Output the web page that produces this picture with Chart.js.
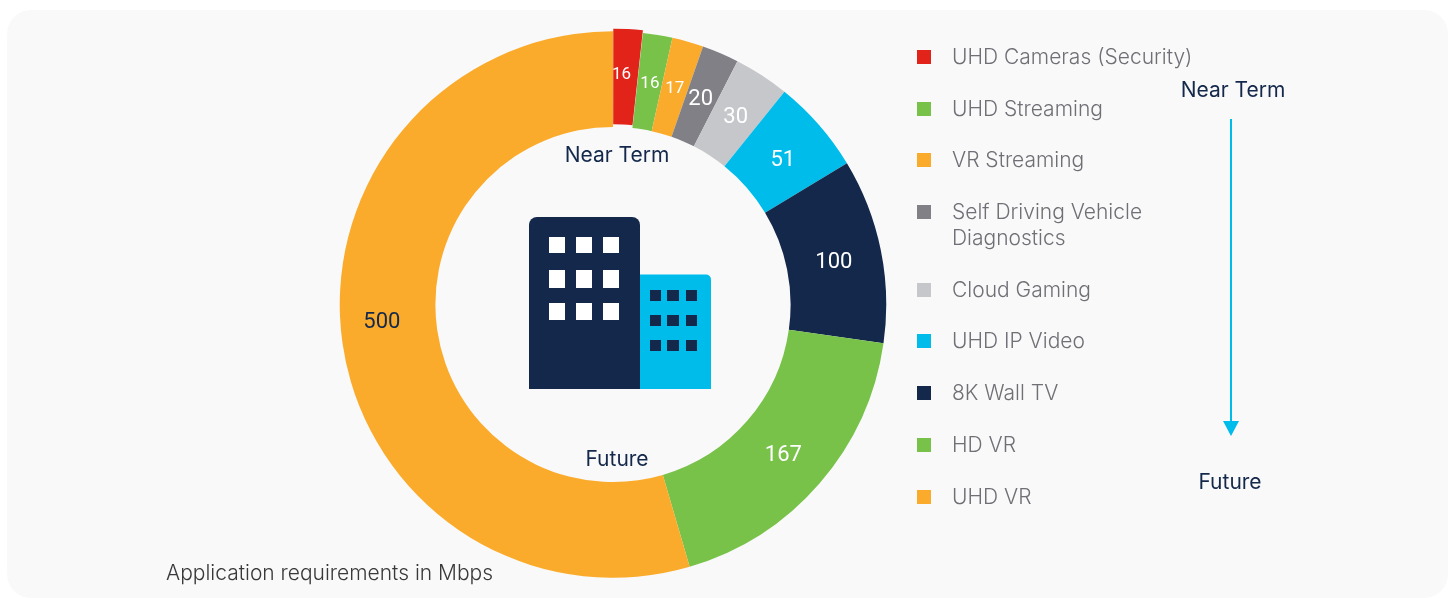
<!DOCTYPE html>
<html>
<head>
<meta charset="utf-8">
<title>Application requirements in Mbps</title>
<script src="https://cdn.jsdelivr.net/npm/chart.js@4"></script>
<style>
  html, body { margin: 0; padding: 0; background: #fff; }
  body { width: 1448px; height: 598px; overflow: hidden; position: relative; font-family: Inter, sans-serif; }
  .card { position: absolute; left: 7px; top: 10px; width: 1441px; height: 588px; background: #f9f9f9; border-radius: 24px; }
  .wrap { position: absolute; left: 337px; top: 28px; width: 552px; height: 553px; }
  .note { position: absolute; font-size: 21px; line-height: 26px; color: #14284b; white-space: nowrap; transform: translateX(-50%); }
  .caption { position: absolute; left: 166px; top: 560px; font-size: 21px; line-height: 26px; font-weight: 300; color: #39393b; white-space: nowrap; }
  .legend { position: absolute; left: 917px; top: 44px; margin: 0; padding: 0; list-style: none; }
  .legend li { display: flex; margin-bottom: 25.7px; font-size: 21px; line-height: 26px; font-weight: 300; color: #6f6f76; }
  .legend span { width: 250px; }
  .legend i { flex: none; width: 14px; height: 14px; margin-right: 21px; margin-top: 6px; }
  svg { position: absolute; left: 0; top: 0; }
</style>
</head>
<body>
<div class="card"></div>
<div class="wrap"><canvas id="ringChart" width="552" height="553"></canvas></div>

<svg width="1448" height="598">
  <!-- building icon -->
  <path d="M529 389V225a8 8 0 0 1 8-8h95a8 8 0 0 1 8 8v164z" fill="#14284b"/>
  <path d="M640 274.5h66a5 5 0 0 1 5 5V389h-71z" fill="#00bceb"/>
  <g fill="#fff">
    <rect x="549" y="237" width="16" height="16"/><rect x="576" y="237" width="16" height="16"/><rect x="603" y="237" width="16" height="16"/>
    <rect x="549" y="270" width="16" height="18"/><rect x="576" y="270" width="16" height="18"/><rect x="603" y="270" width="16" height="18"/>
    <rect x="549" y="303" width="16" height="17"/><rect x="576" y="303" width="16" height="17"/><rect x="603" y="303" width="16" height="17"/>
  </g>
  <g fill="#14284b">
    <rect x="650" y="290" width="11" height="11"/><rect x="667" y="290" width="12" height="11"/><rect x="686" y="290" width="11" height="11"/>
    <rect x="650" y="315" width="11" height="11"/><rect x="667" y="315" width="12" height="11"/><rect x="686" y="315" width="11" height="11"/>
    <rect x="650" y="340" width="11" height="11"/><rect x="667" y="340" width="12" height="11"/><rect x="686" y="340" width="11" height="11"/>
  </g>
  <!-- near term to future arrow -->
  <line x1="1231" y1="119" x2="1231" y2="424" stroke="#00bceb" stroke-width="2"/>
  <path d="M1223 421h16l-8 15z" fill="#00bceb"/>
</svg>

<div class="note" style="left:617px;top:142px">Near Term</div>
<div class="note" style="left:617px;top:446px">Future</div>
<div class="note" style="left:1233px;top:77px">Near Term</div>
<div class="note" style="left:1230px;top:469px">Future</div>
<div class="caption">Application requirements in Mbps</div>
<ul class="legend" id="legend"></ul>

<script>
const categories = ['UHD Cameras (Security)', 'UHD Streaming', 'VR Streaming', 'Self Driving Vehicle Diagnostics', 'Cloud Gaming', 'UHD IP Video', '8K Wall TV', 'HD VR', 'UHD VR'];
const mbps = [16, 16, 17, 20, 30, 51, 100, 167, 500];
const sliceColors = ['#e2231a', '#78c24a', '#fbab2c', '#808086', '#c6c7ca', '#00bceb', '#14284b', '#78c24a', '#fbab2c'];

// label look per slice
const labelSizes = [17, 17, 17, 22, 22, 22, 22, 22, 22];
const labelColors = ['#fff', '#fff', '#fff', '#fff', '#fff', '#fff', '#fff', '#fff', '#14284b'];
// hand placed labels in the original sit a bit off the ring middle
const labelNudgeX = [-4, 0, 0, -1, 0, 0, 0, 0, -8];
const labelNudgeY = [-2, 2, 1, 2, 2, 4, 3, 3, -14];

const sliceLabels = {
  id: 'sliceLabels',
  afterDatasetsDraw(chart) {
    const ctx = chart.ctx;
    ctx.save();
    ctx.textAlign = 'center';
    ctx.textBaseline = 'middle';
    chart.getDatasetMeta(0).data.forEach((arc, i) => {
      const pos = arc.tooltipPosition();
      ctx.font = labelSizes[i] + 'px Roboto, sans-serif';
      ctx.fillStyle = labelColors[i];
      ctx.fillText(String(mbps[i]), pos.x + labelNudgeX[i], pos.y + labelNudgeY[i]);
    });
    ctx.restore();
  }
};

new Chart(document.getElementById('ringChart'), {
  type: 'doughnut',
  data: {
    labels: categories,
    datasets: [{
      data: mbps,
      backgroundColor: sliceColors,
      borderWidth: 0,
      // Chart.js draws an arc offset at about a quarter of this value
      offset: [5.5, 0, 0, 0, 0, 0, 0, 0, 0]
    }]
  },
  options: {
    responsive: false,
    animation: false,
    cutout: '65%',
    plugins: {
      legend: { display: false },
      tooltip: { enabled: false }
    }
  },
  plugins: [sliceLabels]
});

// Legend
const legend = document.getElementById('legend');
categories.forEach((name, i) => {
  const li = document.createElement('li');
  const box = document.createElement('i');
  box.style.background = sliceColors[i];
  const text = document.createElement('span');
  text.textContent = name;
  li.appendChild(box);
  li.appendChild(text);
  legend.appendChild(li);
});
</script>
</body>
</html>
